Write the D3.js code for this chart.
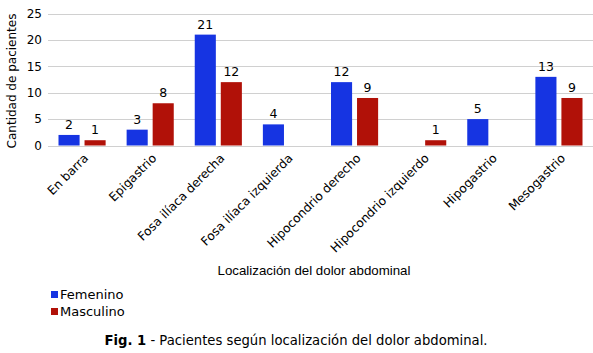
<!DOCTYPE html>
<html>
<head>
<meta charset="utf-8">
<script src="https://cdn.jsdelivr.net/npm/d3@7"></script>
<style>
  body { margin: 0; background: #fff; }
  svg { display: block; font-family: "DejaVu Sans", Verdana, sans-serif; }
</style>
</head>
<body>
<svg id="chart" width="593" height="353"></svg>
<script>
// valores
const categories = ["En barra", "Epigastrio", "Fosa ilíaca derecha", "Fosa ilíaca izquierda",
    "Hipocondrio derecho", "Hipocondrio izquierdo", "Hipogastrio", "Mesogastrio"];
const seriesNames = ["Femenino", "Masculino"];
const femenino = [2, 3, 21, 4, 12, 0, 5, 13];
const masculino = [1, 8, 12, 0, 9, 1, 0, 9];
const yTicks = [0, 5, 10, 15, 20, 25];
const colors = ["#1634e2", "#b11108"];

function drawChart() {
    const svg = d3.select("#chart");

    const rows = categories.map((c, i) => ({
        cat: c,
        vals: [
            { key: seriesNames[0], value: femenino[i] },
            { key: seriesNames[1], value: masculino[i] }
        ]
    }));

    const x0 = d3.scaleBand()
        .domain(categories)
        .range([48, 593])
        .padding(0);

    const x1 = d3.scaleBand()
        .domain(seriesNames)
        .range([10.5, x0.bandwidth() - 10.5])
        .paddingInner(0.19);

    const y = d3.scaleLinear()
        .domain([0, 25])
        .range([145.5, 13.5]);

    const color = d3.scaleOrdinal().domain(seriesNames).range(colors);

    // lineas de cuadricula
    svg.append("g")
        .selectAll("line")
        .data(yTicks)
        .enter().append("line")
        .attr("x1", 48)
        .attr("x2", 593)
        .attr("y1", d => Math.round(y(d)) + 0.5)
        .attr("y2", d => Math.round(y(d)) + 0.5)
        .attr("stroke", "#d0d0d0")
        .attr("stroke-width", 1);

    // eje y
    const yAxis = svg.append("g")
        .attr("transform", "translate(44,0)")
        .call(d3.axisLeft(y).tickValues(yTicks).tickSize(0).tickPadding(2));
    yAxis.select(".domain").remove();
    yAxis.selectAll("text")
        .attr("font-family", "DejaVu Sans, Verdana, sans-serif")
        .attr("font-size", 12)
        .attr("fill", "#000");

    // barras
    const groups = svg.append("g")
        .selectAll("g")
        .data(rows)
        .enter().append("g")
        .attr("transform", d => `translate(${x0(d.cat)},0)`);

    groups.selectAll("rect")
        .data(d => d.vals.filter(v => v.value > 0))
        .enter().append("rect")
        .attr("x", d => x1(d.key))
        .attr("y", d => y(d.value))
        .attr("width", x1.bandwidth())
        .attr("height", d => y(0) - y(d.value))
        .attr("fill", d => color(d.key));

    groups.selectAll("text")
        .data(d => d.vals.filter(v => v.value > 0))
        .enter().append("text")
        .attr("x", d => x1(d.key) + x1.bandwidth() / 2)
        .attr("y", d => y(d.value) - 6)
        .attr("text-anchor", "middle")
        .attr("font-size", 12.5)
        .text(d => d.value);

    // etiquetas eje x
    const xAxis = svg.append("g")
        .attr("transform", "translate(0,150)")
        .call(d3.axisBottom(x0).tickSize(0).tickPadding(0));
    xAxis.select(".domain").remove();
    xAxis.selectAll("text")
        .attr("font-family", "DejaVu Sans, Verdana, sans-serif")
        .attr("font-size", 12.2)
        .attr("fill", "#000")
        .attr("text-anchor", "end")
        .attr("dy", "0.35em")
        .attr("transform", "translate(4,6) rotate(-45)");

    // titulos de ejes
    svg.append("text")
        .attr("transform", "translate(16,81) rotate(-90)")
        .attr("text-anchor", "middle")
        .attr("font-size", 12)
        .text("Cantidad de pacientes");

    svg.append("text")
        .attr("x", 314)
        .attr("y", 275)
        .attr("text-anchor", "middle")
        .attr("font-family", "Liberation Sans, Arial, sans-serif")
        .attr("font-size", 13.3)
        .text("Localización del dolor abdominal");

    // leyenda
    const legend = svg.append("g")
        .selectAll("g")
        .data(seriesNames)
        .enter().append("g")
        .attr("transform", (d, i) => `translate(51,${294 + i * 17})`);

    legend.append("rect")
        .attr("x", 0)
        .attr("y", -3)
        .attr("width", 7)
        .attr("height", 7)
        .attr("fill", d => color(d));

    legend.append("text")
        .attr("x", 9)
        .attr("y", 0)
        .attr("dy", "0.35em")
        .attr("font-size", 13)
        .text(d => d);

    // pie de figura
    const caption = svg.append("text")
        .attr("x", 296)
        .attr("y", 345)
        .attr("text-anchor", "middle")
        .attr("font-size", 13.2);
    caption.append("tspan").attr("font-weight", "bold").text("Fig. 1");
    caption.append("tspan").text(" - Pacientes según localización del dolor abdominal.");
}

document.addEventListener("DOMContentLoaded", drawChart);
</script>
</body>
</html>
